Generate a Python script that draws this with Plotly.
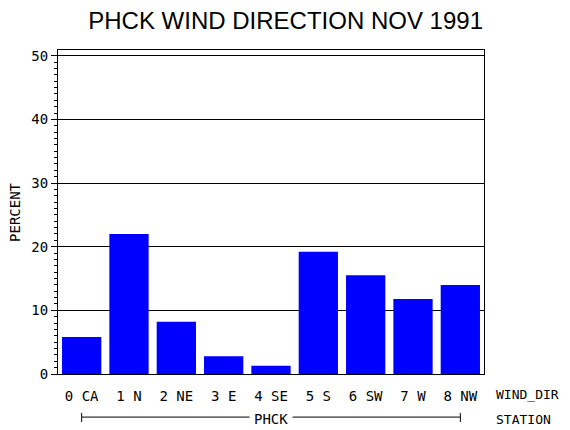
import plotly.graph_objects as go

# wind direction categories and percent of observations
wind_dir = ["0 CA", "1 N", "2 NE", "3 E", "4 SE", "5 S", "6 SW", "7 W", "8 NW"]
percent = [5.8, 22.0, 8.2, 2.8, 1.3, 19.2, 15.5, 11.8, 14.0]
station = "PHCK"
y_ticks = [0, 10, 20, 30, 40, 50]

mono = "DejaVu Sans Mono"

fig = go.Figure()
fig.add_trace(go.Bar(x=wind_dir, y=percent, marker=dict(color="#0000ff", line=dict(width=0))))

# page body has an 8px margin, so the figure is 8px smaller each way
fig.update_layout(
    width=562, height=422,
    margin=dict(l=50, r=86, t=42, b=56),
    paper_bgcolor="white", plot_bgcolor="white",
    bargap=0.17,
    showlegend=False,
    title=dict(text="PHCK WIND DIRECTION NOV 1991", x=0.494, xanchor="center",
               xref="container", y=0.969, yanchor="middle", yref="container",
               font=dict(family="Liberation Sans", size=24, color="black")),
    font=dict(family=mono, size=13, color="black"),
)
fig.update_xaxes(
    type="category", range=[-0.5, 8.5],
    showline=True, linecolor="black", linewidth=1, mirror=True,
    ticks="", showgrid=False,
    tickfont=dict(family=mono, size=14), ticklabelstandoff=9,
)
fig.update_yaxes(
    range=[0, 50.9], tickvals=y_ticks,
    showline=True, linecolor="black", linewidth=1, mirror=True,
    ticks="outside", ticklen=6, tickcolor="black",
    minor=dict(dtick=1, ticks="outside", ticklen=3, tickcolor="black"),
    showgrid=True, gridcolor="black", gridwidth=1, zeroline=False,
    tickfont=dict(family=mono, size=14),
)

# axis labels
fig.add_annotation(text="PERCENT", textangle=-90, xref="paper", yref="paper",
                   x=-0.101, y=0.5, xanchor="center", yanchor="middle", showarrow=False,
                   font=dict(family=mono, size=14))
fig.add_annotation(text="WIND_DIR", xref="paper", yref="paper", x=1.024, y=-0.062,
                   xanchor="left", yanchor="middle", showarrow=False,
                   font=dict(family=mono, size=13))
fig.add_annotation(text="STATION", xref="paper", yref="paper", x=1.024, y=-0.139,
                   xanchor="left", yanchor="middle", showarrow=False,
                   font=dict(family=mono, size=13))
fig.add_annotation(text=station, xref="x", yref="paper", x=3.99, y=-0.139,
                   xanchor="center", yanchor="middle", showarrow=False, bgcolor="white",
                   borderpad=4, font=dict(family=mono, size=14))

# station bracket under the categories
line = dict(color="black", width=1)
fig.add_shape(type="line", xref="x", yref="paper", x0=0, x1=8, y0=-0.133, y1=-0.133, line=line, layer="below")
fig.add_shape(type="line", xref="x", yref="paper", x0=0, x1=0, y0=-0.12, y1=-0.148, line=line)
fig.add_shape(type="line", xref="x", yref="paper", x0=8, x1=8, y0=-0.12, y1=-0.148, line=line)

fig.write_html("out.html")
